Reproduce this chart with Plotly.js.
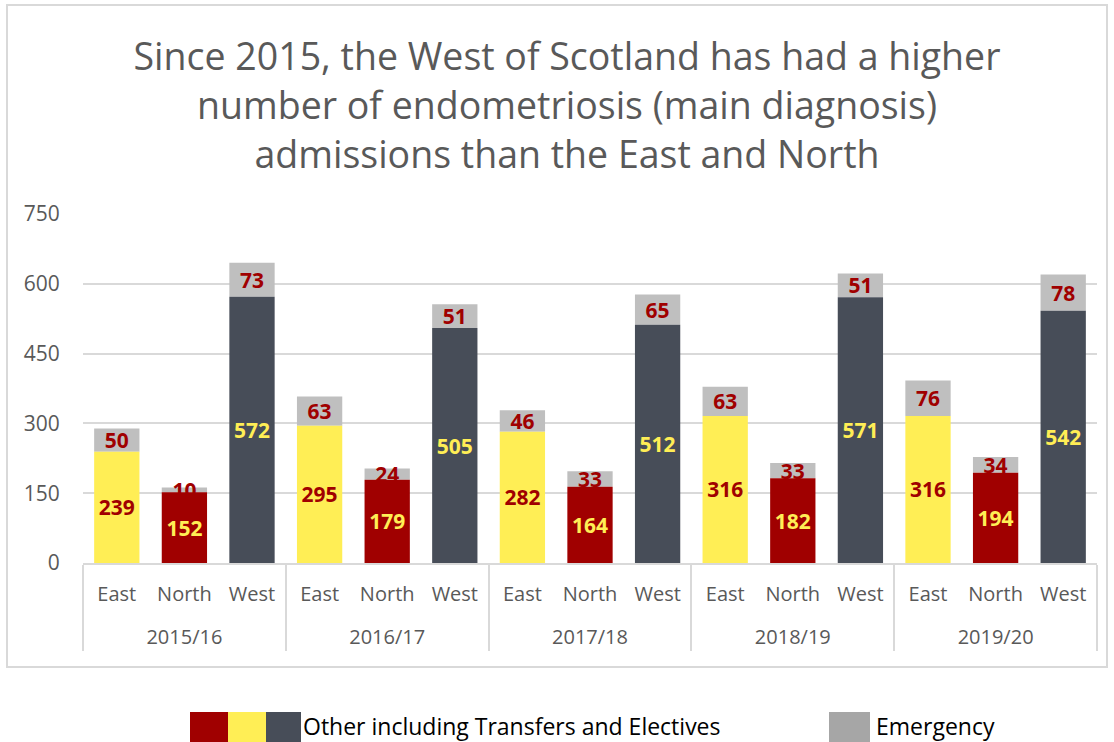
<!DOCTYPE html>
<html>
<head>
<meta charset="utf-8">
<script src="https://cdn.plot.ly/plotly-3.0.1.min.js"></script>
<style>html,body{margin:0;padding:0;background:#fff;}#chart{width:1114px;height:742px;}</style>
</head>
<body>
<div id="chart"></div>
<script>
// ---- data ----
const years = ['2015/16', '2016/17', '2017/18', '2018/19', '2019/20'];
const regions = ['East', 'North', 'West'];
const otherEast = [239, 295, 282, 316, 316];
const otherNorth = [152, 179, 164, 182, 194];
const otherWest = [572, 505, 512, 571, 542];
const emergEast = [50, 63, 46, 63, 76];
const emergNorth = [10, 24, 33, 33, 34];
const emergWest = [73, 51, 65, 51, 78];
const yTicks = [0, 150, 300, 450, 600, 750];

// ---- styles ----
const regionColor = {East: '#FFEE55', North: '#A00000', West: '#474D58'};
const regionLabelColor = {East: '#A00000', North: '#FFEE55', West: '#FFEE55'};
const emergColor = '#BFBFBF';
const emergLegendColor = '#A6A6A6';
const textGrey = '#595959';
const gridGrey = '#D9D9D9';

const otherBy = {East: otherEast, North: otherNorth, West: otherWest};
const emergBy = {East: emergEast, North: emergNorth, West: emergWest};

const xYear = [], xRegion = [], other = [], emerg = [], baseColors = [], baseTextColors = [];
years.forEach((yr, i) => {
  regions.forEach(r => {
    xYear.push(yr); xRegion.push(r);
    other.push(otherBy[r][i]);
    emerg.push(emergBy[r][i]);
    baseColors.push(regionColor[r]);
    baseTextColors.push(regionLabelColor[r]);
  });
});

const labelFont = {family: 'Noto Sans, Open Sans, sans-serif', size: 21, weight: 'bold'};

const traceEmerg = {
  type: 'bar', name: 'Emergency',
  x: [xYear, xRegion], y: emerg, base: other,
  marker: {color: emergColor},
  text: emerg.map(String), textposition: 'inside', insidetextanchor: 'middle',
  textangle: 0, constraintext: 'none',
  textfont: Object.assign({color: '#A00000'}, labelFont),
  hoverinfo: 'skip', showlegend: false
};
const traceOther = {
  type: 'bar', name: 'Other including Transfers and Electives',
  x: [xYear, xRegion], y: other,
  marker: {color: baseColors},
  text: other.map(String), textposition: 'inside', insidetextanchor: 'middle',
  textangle: 0, constraintext: 'none',
  textfont: Object.assign({color: baseTextColors}, labelFont),
  hoverinfo: 'skip', showlegend: false
};

// plot area pixels: x 83..1097, y 214..563
const L = 83, R = 17, T = 214, B = 179, W = 1114, H = 742;
const pw = W - L - R, ph = H - T - B;
const px = v => (v - L) / pw;
const py = v => (H - B - v) / ph;

const shapes = [
  {type: 'rect', xref: 'paper', yref: 'paper', x0: px(7), x1: px(1107), y0: py(667), y1: py(5),
   line: {color: gridGrey, width: 2}, fillcolor: 'rgba(0,0,0,0)', layer: 'below'},
  {type: 'rect', xref: 'paper', yref: 'paper', x0: px(190), x1: px(228), y0: py(742), y1: py(712),
   line: {width: 0}, fillcolor: regionColor.North},
  {type: 'rect', xref: 'paper', yref: 'paper', x0: px(228), x1: px(266), y0: py(742), y1: py(712),
   line: {width: 0}, fillcolor: regionColor.East},
  {type: 'rect', xref: 'paper', yref: 'paper', x0: px(266), x1: px(301), y0: py(742), y1: py(712),
   line: {width: 0}, fillcolor: regionColor.West},
  {type: 'rect', xref: 'paper', yref: 'paper', x0: px(829), x1: px(870), y0: py(742), y1: py(712),
   line: {width: 0}, fillcolor: emergLegendColor}
];

const legendFont = {family: 'Open Sans, sans-serif', size: 23, color: '#000'};
const annotations = [
  {xref: 'paper', yref: 'paper', x: px(301), y: py(726), xanchor: 'left', yanchor: 'middle',
   text: traceOther.name, showarrow: false, font: legendFont},
  {xref: 'paper', yref: 'paper', x: px(874), y: py(726), xanchor: 'left', yanchor: 'middle',
   text: traceEmerg.name, showarrow: false, font: legendFont}
];

const layout = {
  width: W, height: H,
  margin: {l: L, r: R, t: T, b: B, pad: 0},
  paper_bgcolor: '#fff', plot_bgcolor: '#fff',
  barmode: 'overlay', bargap: 0.33,
  showlegend: false,
  title: {
    text: 'Since 2015, the West of Scotland has had a higher<br>number of endometriosis (main diagnosis)<br>admissions than the East and North',
    font: {family: 'Open Sans, sans-serif', size: 37.5, color: textGrey},
    x: 567 / W, xref: 'container', xanchor: 'center', y: 1 - 70 / H, yref: 'container', yanchor: 'top'
  },
  xaxis: {
    type: 'multicategory',
    tickfont: {family: 'Open Sans, sans-serif', size: 20, color: textGrey},
    showline: true, linecolor: gridGrey, linewidth: 2,
    showdividers: true, dividercolor: gridGrey, dividerwidth: 2,
    tickson: 'labels', ticks: 'outside', ticklen: 26, tickcolor: 'rgba(0,0,0,0)', ticklabelstandoff: -14,
    showgrid: false, fixedrange: true
  },
  yaxis: {
    range: [0, 750], tickvals: yTicks, ticktext: yTicks.map(String),
    tickfont: {family: 'Open Sans, sans-serif', size: 21, color: textGrey},
    showgrid: true, gridcolor: gridGrey, gridwidth: 2,
    zeroline: false, showline: false, ticks: 'outside', ticklen: 18, tickcolor: 'rgba(0,0,0,0)',
    fixedrange: true
  },
  shapes: shapes,
  annotations: annotations
};

Plotly.newPlot('chart', [traceEmerg, traceOther], layout, {displayModeBar: false, staticPlot: true});
</script>
</body>
</html>
